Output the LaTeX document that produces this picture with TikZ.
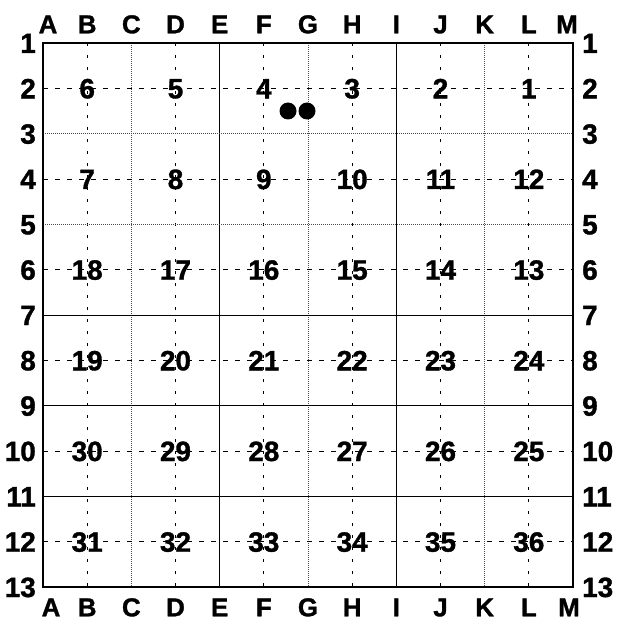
\documentclass[tikz,border=0pt]{standalone}
\usepackage{fontspec}
\setmainfont{Liberation Sans}[FakeBold=1.2]
\usetikzlibrary{calc}
\begin{document}
\begin{tikzpicture}[x=1bp,y=-1bp,
  txt/.style={font=\fontsize{26}{26}\selectfont\bfseries, inner sep=0pt, text height=18.6bp, text depth=0pt},
  num/.style={font=\fontsize{28}{28}\selectfont\bfseries, inner sep=0pt, text height=20bp, text depth=0pt},
  border/.style={line width=1.5bp},
  solidline/.style={line width=0.9bp},
  dotline/.style={line width=0.7bp, black!70, dash pattern=on 1bp off 1bp},
  vdash/.style={line width=0.8bp, dash pattern=on 3bp off 9bp},
  hdash/.style={line width=0.8bp, dash pattern=on 5bp off 7bp},
  token/.style={circle, fill=black, inner sep=0pt, minimum size=17bp}]
\useasboundingbox (0,0) rectangle (621,632);
\fill[white] (0,0) rectangle (621,632);
% named grid coordinates
\foreach \c [count=\i from 0] in {A,B,C,D,E,F,G,H,I,J,K,L,M} {
  \coordinate (top\c) at ({43+44.1667*\i},43);
  \coordinate (bot\c) at ({43+44.1667*\i},587);
}
\foreach \r in {1,...,13} {
  \coordinate (L\r) at (43,{43+45.3333*(\r-1)});
  \coordinate (R\r) at (573,{43+45.3333*(\r-1)});
}
% vertical lines
\foreach \c in {B,D,F,H,J,L} \draw[vdash] (top\c) -- (bot\c);
\foreach \c in {C,G,K} \draw[dotline] (top\c) -- (bot\c);
\foreach \c in {E,I} \draw[solidline] (top\c) -- (bot\c);
% horizontal lines
\foreach \r in {2,4,6,8,10,12} \draw[hdash] (L\r) -- (R\r);
\foreach \r in {3,5} \draw[dotline] (L\r) -- (R\r);
\foreach \r in {7,9,11} \draw[solidline] (L\r) -- (R\r);
% border
\draw[border] (L1) rectangle (R13);
% column letters
\foreach \c in {B,C,D,E,F,G,H,I,J,K,L} {
  \node[txt] (ct\c) at (top\c |- 0,24) {\c};
  \node[txt] (cb\c) at (bot\c |- 0,607) {\c};
}
\node[txt] (ctA) at (48,24) {A};
\node[txt] (cbA) at (51,607) {A};
\node[txt] (ctM) at (567,24) {M};
\node[txt] (cbM) at (569,607) {M};
% row numbers
\foreach \r in {1,...,13} {
  \node[num, anchor=east] (rl\r) at ($(L\r)+(-7,0)$) {\r};
  \node[num, anchor=west] (rr\r) at ($(R\r)+(9,0)$) {\r};
}
% cell numbers
\foreach \n [count=\j from 0] in {6,5,4,3,2,1} \node[num] (n\n) at ({43+44.1667*(2*\j+1)},{43+45.3333*1}) {\n};
\foreach \n [count=\j from 0] in {7,8,9,10,11,12} \node[num] (n\n) at ({43+44.1667*(2*\j+1)},{43+45.3333*3}) {\n};
\foreach \n [count=\j from 0] in {18,17,16,15,14,13} \node[num] (n\n) at ({43+44.1667*(2*\j+1)},{43+45.3333*5}) {\n};
\foreach \n [count=\j from 0] in {19,20,21,22,23,24} \node[num] (n\n) at ({43+44.1667*(2*\j+1)},{43+45.3333*7}) {\n};
\foreach \n [count=\j from 0] in {30,29,28,27,26,25} \node[num] (n\n) at ({43+44.1667*(2*\j+1)},{43+45.3333*9}) {\n};
\foreach \n [count=\j from 0] in {31,32,33,34,35,36} \node[num] (n\n) at ({43+44.1667*(2*\j+1)},{43+45.3333*11}) {\n};
% tokens
\node[token] (tok1) at (288,111) {};
\node[token] (tok2) at (307,111) {};
\end{tikzpicture}
\end{document}
